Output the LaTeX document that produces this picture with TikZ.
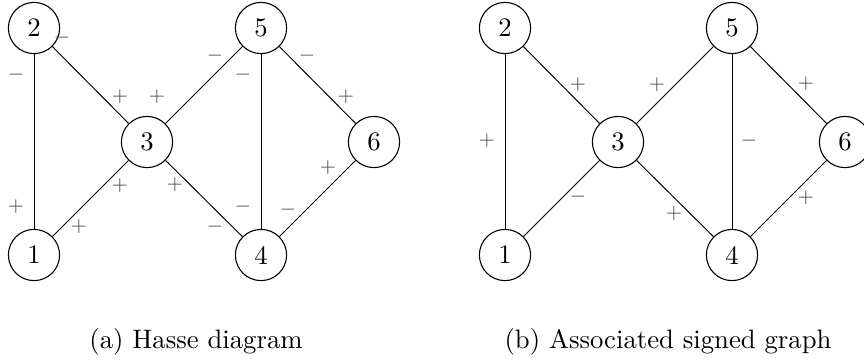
\documentclass[tikz,border=0pt]{standalone}
\begin{document}
\begin{tikzpicture}[x=0.41pt,y=-0.41pt,
  vtx/.style={circle,draw,line width=0.45pt,minimum size=21pt,inner sep=0pt,font=\fontsize{10.95}{13}\selectfont},
  sgn/.style={text=black!70,font=\fontsize{7.8}{9}\selectfont,inner sep=0pt},
  captext/.style={font=\fontsize{10.95}{13}\selectfont,inner sep=0pt,anchor=base},
  edge/.style={line width=0.4pt}]
\useasboundingbox (0,0) rectangle (864,362);
% (a) Hasse diagram
\node[vtx] (a2) at (34,28) {2};
\node[vtx] (a5) at (261,28) {5};
\node[vtx] (a3) at (147,142) {3};
\node[vtx] (a6) at (374,142) {6};
\node[vtx] (a1) at (34,255) {1};
\node[vtx] (a4) at (261,255) {4};
\draw[edge] (a2) -- (a1);
\draw[edge] (a2) -- (a3);
\draw[edge] (a3) -- (a1);
\draw[edge] (a5) -- (a3);
\draw[edge] (a3) -- (a4);
\draw[edge] (a5) -- (a4);
\draw[edge] (a5) -- (a6);
\draw[edge] (a6) -- (a4);
\node[sgn] (la1) at (62,38) {$-$};
\node[sgn] (la2) at (16,75) {$-$};
\node[sgn] (la3) at (120,97) {$+$};
\node[sgn] (la4) at (157,97) {$+$};
\node[sgn] (la5) at (215,56) {$-$};
\node[sgn] (la6) at (243,75) {$-$};
\node[sgn] (la7) at (307,56) {$-$};
\node[sgn] (la8) at (346,97) {$+$};
\node[sgn] (la9) at (328,168) {$+$};
\node[sgn] (la10) at (288,210) {$-$};
\node[sgn] (la11) at (243,207) {$-$};
\node[sgn] (la12) at (215,227) {$-$};
\node[sgn] (la13) at (175,185) {$+$};
\node[sgn] (la14) at (120,186) {$+$};
\node[sgn] (la15) at (16,207) {$+$};
\node[sgn] (la16) at (79,227) {$+$};
\node[captext] (capa) at (196,348) {(a) Hasse diagram};
% (b) Associated signed graph
\node[vtx] (b2) at (505,28) {2};
\node[vtx] (b5) at (732,28) {5};
\node[vtx] (b3) at (618,142) {3};
\node[vtx] (b6) at (845,142) {6};
\node[vtx] (b1) at (505,255) {1};
\node[vtx] (b4) at (732,255) {4};
\draw[edge] (b2) -- (b1);
\draw[edge] (b2) -- (b3);
\draw[edge] (b3) -- (b1);
\draw[edge] (b5) -- (b3);
\draw[edge] (b3) -- (b4);
\draw[edge] (b5) -- (b4);
\draw[edge] (b5) -- (b6);
\draw[edge] (b6) -- (b4);
\node[sgn] (lb1) at (487,141) {$+$};
\node[sgn] (lb2) at (578,85) {$+$};
\node[sgn] (lb3) at (657,85) {$+$};
\node[sgn] (lb4) at (749,141) {$-$};
\node[sgn] (lb5) at (806,84) {$+$};
\node[sgn] (lb6) at (578,197) {$-$};
\node[sgn] (lb7) at (674,214) {$+$};
\node[sgn] (lb8) at (806,198) {$+$};
\node[captext] (capb) at (668,348) {(b) Associated signed graph};
\end{tikzpicture}
\end{document}
